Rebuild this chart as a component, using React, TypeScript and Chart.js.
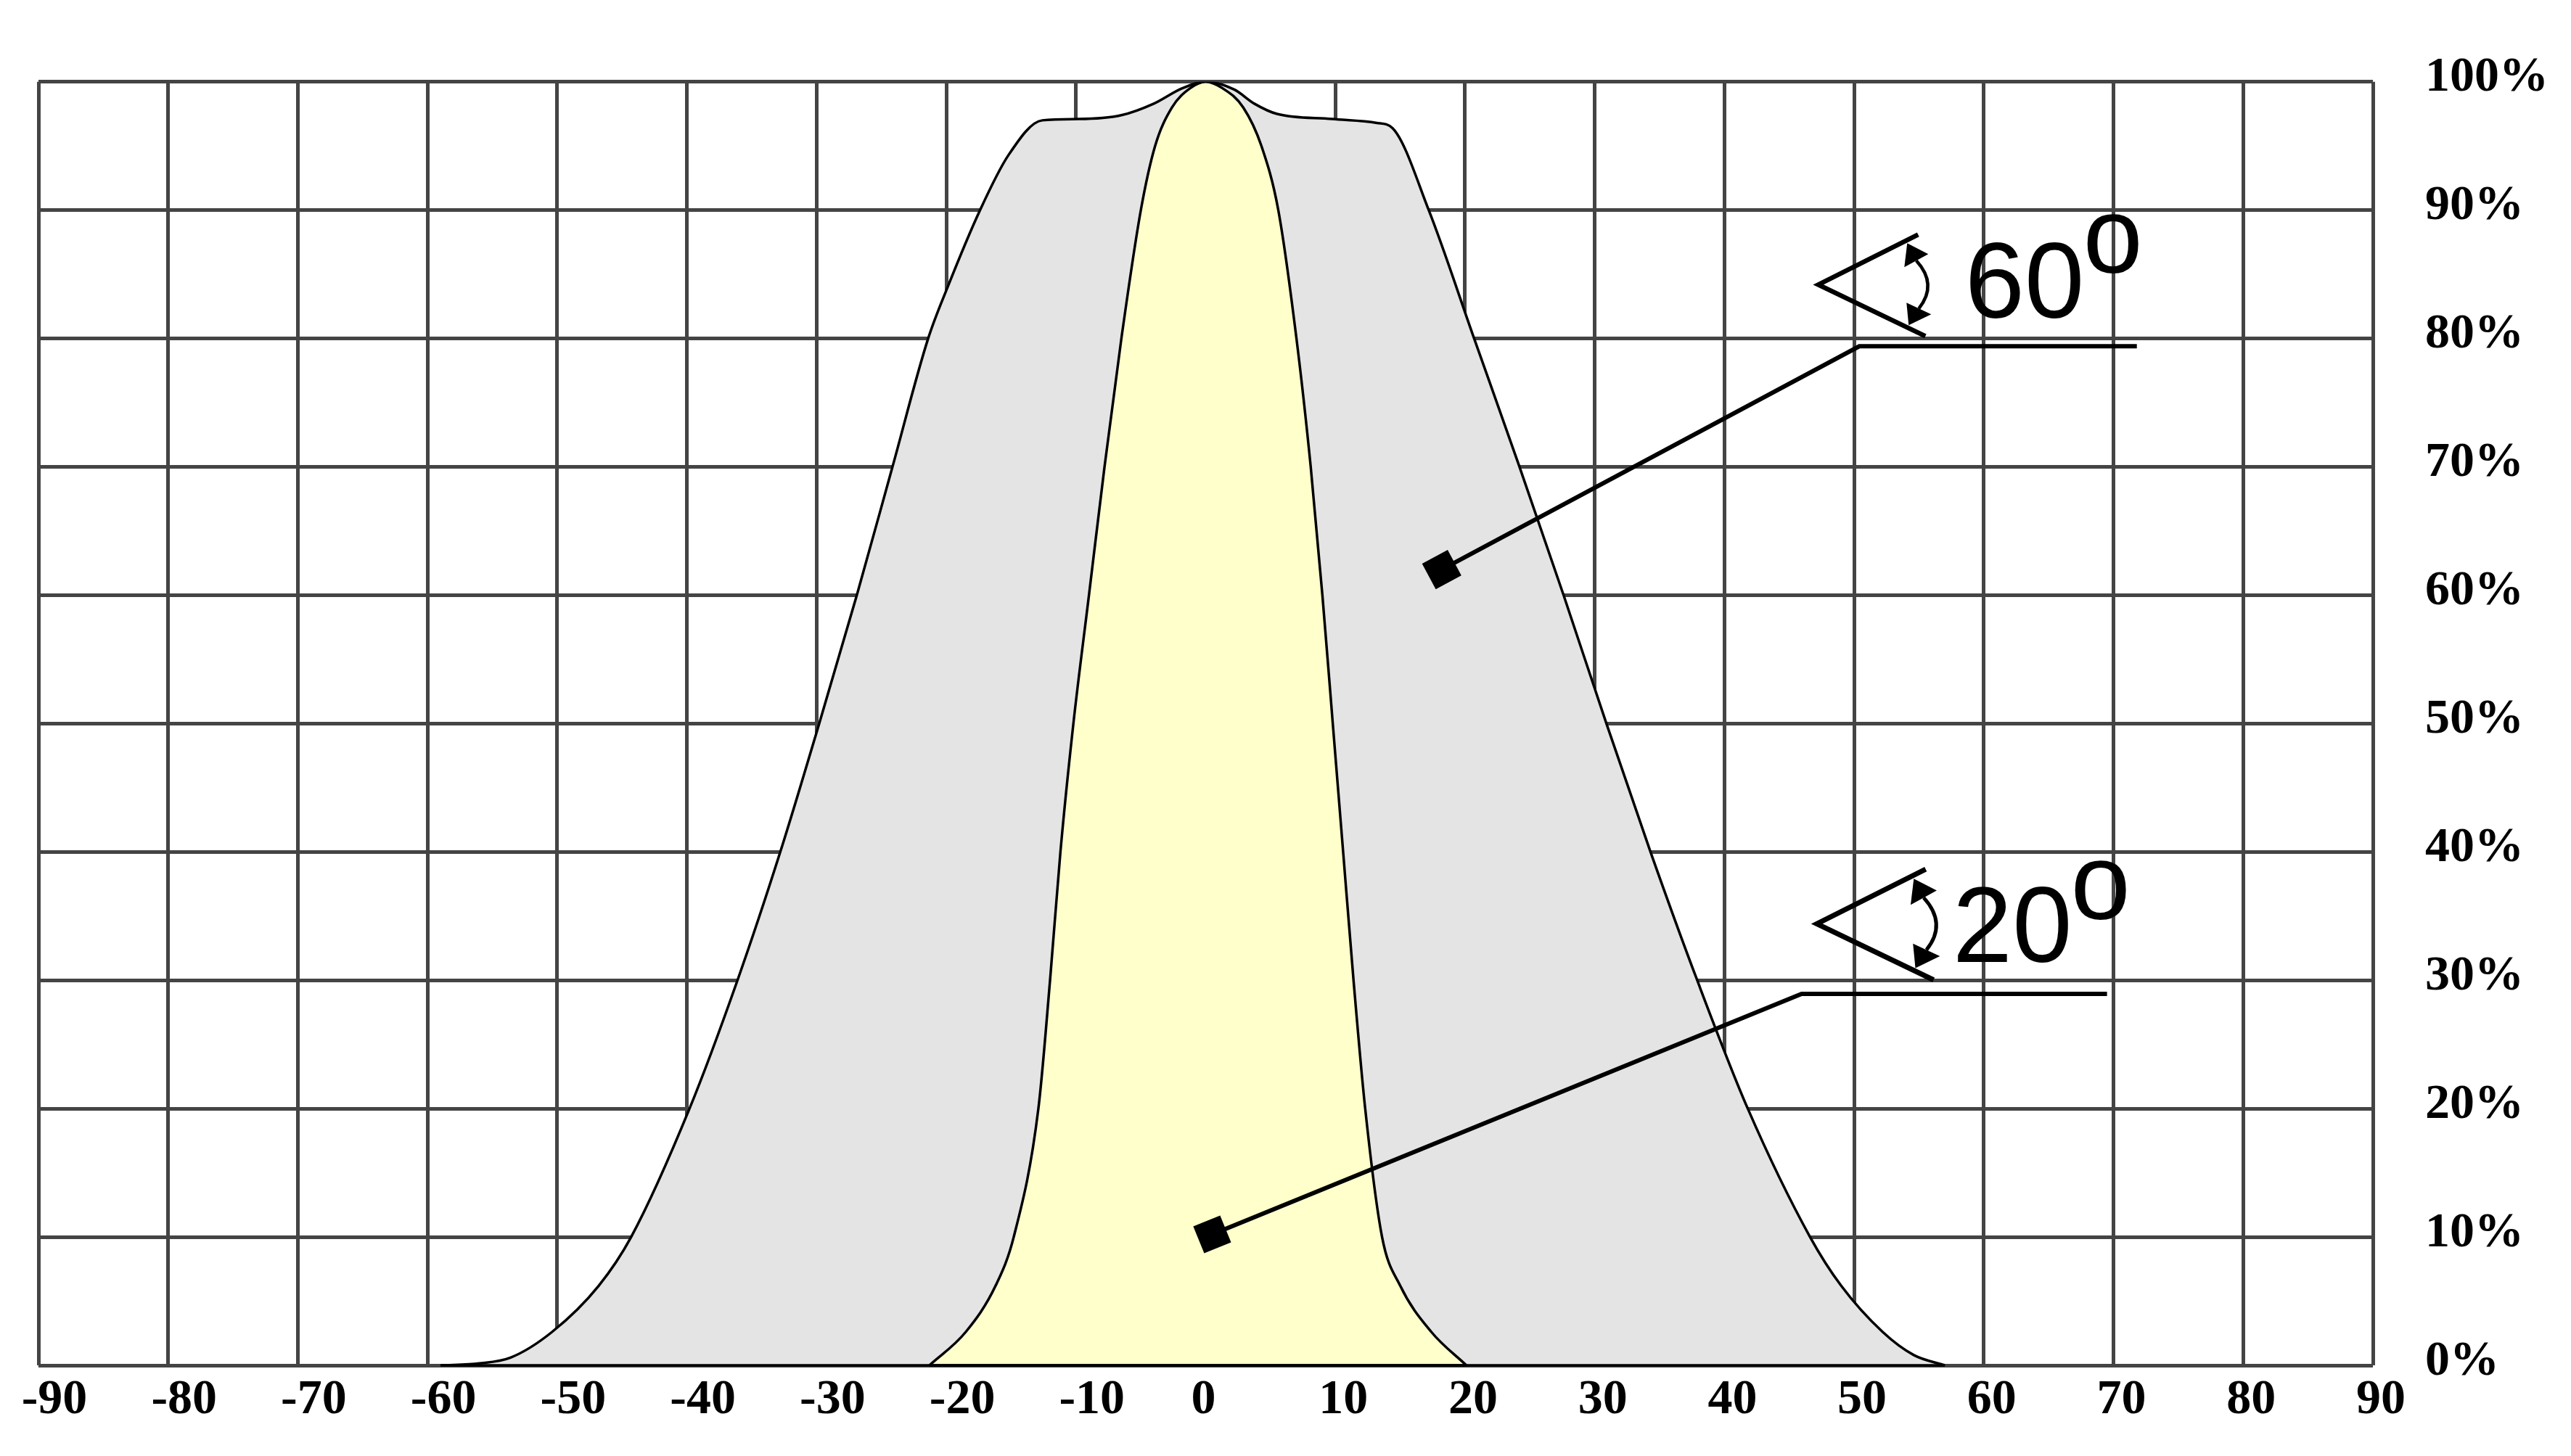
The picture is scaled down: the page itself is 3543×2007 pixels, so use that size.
import React, { useEffect, useRef } from "react";
import { Chart, registerables } from "chart.js";

Chart.register(...registerables);

const W = 3543;
const H = 2007;

// axis ticks
const angleTicks = [-90, -80, -70, -60, -50, -40, -30, -20, -10, 0, 10, 20, 30, 40, 50, 60, 70, 80, 90];
const percentTicks = [0, 10, 20, 30, 40, 50, 60, 70, 80, 90, 100];

// 60° beam (grey)
const gray60Angles = [-59, -56, -53.6, -50.4, -46.8, -44.3, -39.8, -36.1, -32.8, -29.8, -26.9, -24.15, -21.4, -19.9, -17.4, -15.2, -12.6, -9.8, -6.5, -4.0, -1.8, 0, 2.2, 3.75, 5.5, 9.75, 13.2, 14.4, 17.2, 20.7, 24.2, 27.6, 30.9, 34.3, 37.9, 41.8, 46.6, 49.0, 52.2, 54.6, 57];
const gray60Values = [0, 0.15, 0.6, 2.6, 6.2, 10, 20, 30, 40, 50, 60, 70, 80, 84, 90, 94.3, 97, 97.1, 97.4, 98.3, 99.5, 100, 99.4, 98.3, 97.5, 97.1, 96.8, 96.4, 90, 80, 70, 60, 50, 40, 30, 20, 10, 6.2, 2.6, 0.8, 0];

// 20° beam (yellow)
const yellow20Angles = [-21.3, -18.5, -16.2, -14.8, -12.9, -12.0, -11.2, -10.2, -9.0, -7.8, -6.5, -5.0, -3.9, -2.6, -1.2, 0, 1.3, 2.9, 4.3, 5.6, 7.0, 8.1, 9.0, 9.8, 10.6, 11.4, 12.3, 13.6, 15.0, 17.4, 20.1];
const yellow20Values = [0, 2.6, 6.2, 10, 20, 30, 40, 50, 60, 70, 80, 90, 95, 98, 99.5, 100, 99.5, 98, 95, 90, 80, 70, 60, 50, 40, 30, 20, 10, 6.2, 2.6, 0];

// callouts (anchors in data units: [angle, percent])
const callout60 = {
  label: "60",
  marker: [18.2, 62.0],
  elbow: [50.4, 79.4],
  end: [71.8, 79.4],
  eye: [47.24, 84.2],
  scale: 1,
  textDx: 202,
  textDy: 46,
  supDy: -16,
};
const callout20 = {
  label: "20",
  marker: [0.5, 10.2],
  elbow: [45.95, 28.94],
  end: [69.5, 28.94],
  eye: [47.13, 34.4],
  scale: 1.09,
  textDx: 187,
  textDy: 53,
  supDy: -6,
};
const callouts = [callout60, callout20];

const toPoints = (xs: number[], ys: number[]) => xs.map((x, i) => ({ x, y: ys[i] }));

const baselinePlugin = {
  id: "baselineStroke",
  afterDatasetsDraw(chart: any) {
    const xs = chart.scales.x;
    const ys = chart.scales.y;
    const ctx = chart.ctx;
    const y0 = ys.getPixelForValue(0);
    ctx.save();
    ctx.strokeStyle = "#000";
    ctx.lineWidth = 3.5;
    for (const arr of [gray60Angles, yellow20Angles]) {
      ctx.beginPath();
      ctx.moveTo(xs.getPixelForValue(arr[0]), y0);
      ctx.lineTo(xs.getPixelForValue(arr[arr.length - 1]), y0);
      ctx.stroke();
    }
    ctx.restore();
  },
};

const xLabelPlugin = {
  id: "xLabels",
  afterDraw(chart: any) {
    const xs = chart.scales.x;
    const ctx = chart.ctx;
    ctx.save();
    ctx.font = 'bold 68px "Liberation Serif", "Times New Roman", serif';
    ctx.fillStyle = "#000";
    ctx.textAlign = "center";
    ctx.textBaseline = "middle";
    for (const v of angleTicks) {
      const dx = v < 0 ? 22 : v > 0 ? 11 : -3;
      ctx.fillText(String(v), xs.getPixelForValue(v) + dx, chart.chartArea.bottom + 48);
    }
    ctx.restore();
  },
};

const calloutPlugin = {
  id: "callouts",
  afterDraw(chart: any) {
    const xs = chart.scales.x;
    const ys = chart.scales.y;
    const ctx = chart.ctx;
    const px = (p: number[]) => [xs.getPixelForValue(p[0]), ys.getPixelForValue(p[1])];
    for (const c of callouts) {
      const [mx, my] = px(c.marker);
      const [ex, ey] = px(c.elbow);
      const [tx, ty] = px(c.end);
      ctx.save();
      ctx.strokeStyle = "#000";
      ctx.fillStyle = "#000";
      ctx.lineWidth = 6;
      ctx.lineJoin = "miter";
      ctx.beginPath();
      ctx.moveTo(mx, my);
      ctx.lineTo(ex, ey);
      ctx.lineTo(tx, ty);
      ctx.stroke();
      // square marker
      const ang = Math.atan2(ey - my, ex - mx);
      ctx.save();
      ctx.translate(mx, my);
      ctx.rotate(ang);
      ctx.fillRect(-20, -20, 40, 40);
      ctx.restore();
      // angle symbol
      const [vx, vy] = px(c.eye);
      ctx.save();
      ctx.translate(vx, vy);
      ctx.scale(c.scale, c.scale);
      ctx.lineWidth = 6.5;
      ctx.beginPath();
      ctx.moveTo(137.5, -69);
      ctx.lineTo(0, 0);
      ctx.lineTo(147.5, 71);
      ctx.stroke();
      ctx.lineWidth = 4.5;
      ctx.beginPath();
      ctx.moveTo(135, -33);
      ctx.quadraticCurveTo(165, 0, 138.5, 33);
      ctx.stroke();
      ctx.beginPath();
      ctx.moveTo(122.5, -57);
      ctx.lineTo(118.5, -24);
      ctx.lineTo(151.5, -42);
      ctx.closePath();
      ctx.fill();
      ctx.beginPath();
      ctx.moveTo(124.5, 56);
      ctx.lineTo(121.5, 25);
      ctx.lineTo(155.5, 41);
      ctx.closePath();
      ctx.fill();
      ctx.restore();
      // text
      ctx.font = '148px "Liberation Sans", Arial, sans-serif';
      ctx.textAlign = "left";
      ctx.textBaseline = "alphabetic";
      const x0 = vx + c.textDx;
      ctx.fillText(c.label, x0, vy + c.textDy);
      const w = ctx.measureText(c.label).width;
      ctx.fillText("o", x0 + w - 2, vy + c.supDy);
      ctx.restore();
    }
  },
};

export default function App() {
  const ref = useRef<HTMLCanvasElement | null>(null);

  useEffect(() => {
    document.body.style.margin = "0";
    document.body.style.overflow = "hidden";
    const canvas = ref.current;
    if (!canvas) return;
    const chart = new Chart(canvas, {
      type: "line",
      data: {
        datasets: [
          {
            label: "20°",
            data: toPoints(yellow20Angles, yellow20Values),
            borderColor: "#000",
            borderWidth: 3.5,
            backgroundColor: "#ffffcc",
            fill: "origin",
            pointRadius: 0,
            cubicInterpolationMode: "monotone",
          },
          {
            label: "60°",
            data: toPoints(gray60Angles, gray60Values),
            borderColor: "#000",
            borderWidth: 3.5,
            backgroundColor: "#e4e4e4",
            fill: "origin",
            pointRadius: 0,
            cubicInterpolationMode: "monotone",
          },
        ],
      },
      options: {
        animation: false,
        responsive: false,
        maintainAspectRatio: false,
        devicePixelRatio: 1,
        layout: { padding: { left: 53, top: 107, right: 0, bottom: 0 } },
        plugins: {
          legend: { display: false },
          tooltip: { enabled: false },
        },
        events: [],
        scales: {
          x: {
            type: "linear",
            min: -90,
            max: 90,
            afterBuildTicks: (s: any) => {
              s.ticks = angleTicks.map((v) => ({ value: v }));
            },
            afterFit: (s: any) => {
              s.height = 125;
            },
            ticks: { display: false },
            grid: { color: "#444444", lineWidth: 5, drawTicks: false },
            border: { display: false },
          },
          y: {
            type: "linear",
            position: "right",
            min: 0,
            max: 100,
            afterBuildTicks: (s: any) => {
              s.ticks = percentTicks.map((v) => ({ value: v }));
            },
            afterFit: (s: any) => {
              s.width = 273;
            },
            ticks: {
              padding: 72,
              labelOffset: -5,
              color: "#000",
              font: { family: '"Liberation Serif", "Times New Roman", serif', size: 68, weight: "bold" },
              callback: (v: any) => `${v}%`,
            },
            grid: { color: "#444444", lineWidth: 5, drawTicks: false },
            border: { display: false },
          },
        },
      },
      plugins: [baselinePlugin, xLabelPlugin, calloutPlugin],
    } as any);
    return () => chart.destroy();
  }, []);

  return (
    <div style={{ width: W, height: H, background: "#fff" }}>
      <canvas ref={ref} width={W} height={H} style={{ display: "block", width: W, height: H }} />
    </div>
  );
}
